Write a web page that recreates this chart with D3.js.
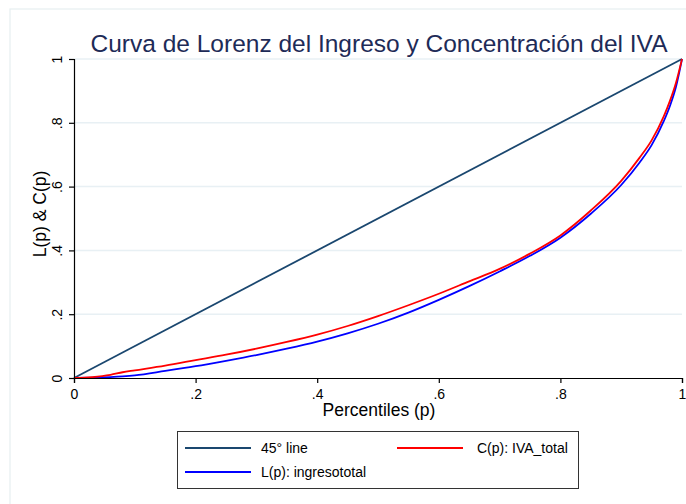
<!DOCTYPE html>
<html>
<head>
<meta charset="utf-8">
<script src="https://cdn.jsdelivr.net/npm/d3@7"></script>
<style>
  body { margin: 0; background: #fff; }
  svg { font-family: "Liberation Sans", Arial, sans-serif; }
</style>
</head>
<body>
<div class="chart"></div>
<script>
// percentiles and the two curves
var pct  = [0, 0.03, 0.06, 0.08, 0.1, 0.15, 0.2, 0.25, 0.3, 0.35, 0.4, 0.45, 0.5, 0.55, 0.6, 0.65, 0.7, 0.75, 0.8, 0.85, 0.9, 0.93, 0.95, 0.97, 0.98, 0.99, 1];
var ivaC = [0, 0.003, 0.010, 0.018, 0.024, 0.039, 0.056, 0.073, 0.092, 0.113, 0.136, 0.163, 0.194, 0.228, 0.264, 0.303, 0.342, 0.390, 0.447, 0.525, 0.618, 0.690, 0.745, 0.820, 0.868, 0.925, 1];
var ingL = [0, 0.001, 0.003, 0.005, 0.008, 0.022, 0.037, 0.054, 0.072, 0.092, 0.114, 0.140, 0.170, 0.205, 0.245, 0.288, 0.334, 0.383, 0.440, 0.515, 0.605, 0.675, 0.730, 0.805, 0.852, 0.912, 1];
var diag = [0, 1];
var ticks = [0, 0.2, 0.4, 0.6, 0.8, 1];
var legendLabels = ["45° line", "C(p): IVA_total", "L(p): ingresototal"];

var W = 686, H = 504;
var margin = {left: 74, right: 4, top: 59, bottom: 126};

var svg = d3.select(".chart").append("svg")
  .attr("width", W).attr("height", H);

// light outer frame
svg.append("rect")
  .attr("x", 10).attr("y", 9).attr("width", W).attr("height", H)
  .attr("fill", "none").attr("stroke", "#e6eff1").attr("stroke-width", 1.2);

var x = d3.scaleLinear().domain([0, 1]).range([margin.left, W - margin.right]);
var y = d3.scaleLinear().domain([0, 1]).range([H - margin.bottom, margin.top]);

var fmt = function(d) { return d === 0 ? "0" : d === 1 ? "1" : d3.format(".1f")(d).replace(/^0/, ""); };

// gridlines
svg.append("g").selectAll("line")
  .data(ticks.filter(function(d) { return d > 0; }))
  .enter().append("line")
  .attr("x1", x(0)).attr("x2", x(1))
  .attr("y1", function(d) { return y(d); })
  .attr("y2", function(d) { return y(d); })
  .attr("stroke", "#e8f0f4").attr("stroke-width", 1.5);

// curves
var line = d3.line()
  .x(function(d) { return x(d[0]); })
  .y(function(d) { return y(d[1]); })
  .curve(d3.curveMonotoneX);

svg.append("path")
  .datum(diag.map(function(d) { return [d, d]; }))
  .attr("d", line).attr("fill", "none")
  .attr("stroke", "#1a476f").attr("stroke-width", 1.8);

svg.append("path")
  .datum(pct.map(function(p, i) { return [p, ingL[i]]; }))
  .attr("d", line).attr("fill", "none")
  .attr("stroke", "#0000ff").attr("stroke-width", 1.8);

svg.append("path")
  .datum(pct.map(function(p, i) { return [p, ivaC[i]]; }))
  .attr("d", line).attr("fill", "none")
  .attr("stroke", "#ff0000").attr("stroke-width", 1.8);

// axes
var xAxis = svg.append("g")
  .attr("transform", "translate(0," + y(0) + ")")
  .call(d3.axisBottom(x).tickValues(ticks).tickFormat(fmt).tickSize(5).tickPadding(6));
var yAxis = svg.append("g")
  .attr("transform", "translate(" + x(0) + ",0)")
  .call(d3.axisLeft(y).tickValues(ticks).tickFormat(fmt).tickSize(5).tickPadding(4));

[xAxis, yAxis].forEach(function(g) {
  g.select(".domain").attr("stroke", "#000").attr("stroke-width", 1.2);
  g.selectAll(".tick line").attr("stroke", "#000").attr("stroke-width", 1.2);
  g.selectAll(".tick text").attr("fill", "#000").style("font-size", "14px")
    .style("font-family", "Liberation Sans, Arial, sans-serif");
});

yAxis.selectAll(".tick text")
  .attr("x", null).attr("dy", null)
  .attr("text-anchor", "middle")
  .attr("transform", "translate(-12,0) rotate(-90)")
  .attr("y", 0);

// titles
svg.append("text")
  .attr("x", (x(0) + x(1)) / 2 + 1).attr("y", 52)
  .attr("text-anchor", "middle")
  .attr("fill", "#1e2b57")
  .style("font-size", "24.5px")
  .text("Curva de Lorenz del Ingreso y Concentración del IVA");

svg.append("text")
  .attr("x", (x(0) + x(1)) / 2 + 1).attr("y", 416)
  .attr("text-anchor", "middle")
  .attr("fill", "#000")
  .style("font-size", "17.5px")
  .text("Percentiles (p)");

svg.append("text")
  .attr("transform", "translate(46,214) rotate(-90)")
  .attr("text-anchor", "middle")
  .attr("fill", "#000")
  .style("font-size", "17.5px")
  .text("L(p) & C(p)");

// legend
var leg = svg.append("g");
leg.append("rect")
  .attr("x", 177.5).attr("y", 431.5).attr("width", 401).attr("height", 57)
  .attr("fill", "#fff").attr("stroke", "#333").attr("stroke-width", 1);

var items = [
  {label: legendLabels[0], color: "#1a476f", x: 185, y: 448},
  {label: legendLabels[1], color: "#ff0000", x: 397, y: 448},
  {label: legendLabels[2], color: "#0000ff", x: 185, y: 472}
];
items.forEach(function(it) {
  leg.append("line")
    .attr("x1", it.x).attr("x2", it.x + 66)
    .attr("y1", it.y).attr("y2", it.y)
    .attr("stroke", it.color).attr("stroke-width", 1.8);
  leg.append("text")
    .attr("x", it.x + 76 + (it.x > 300 ? 4 : 0)).attr("y", it.y + 5)
    .attr("fill", "#000")
    .style("font-size", "14px")
    .text(it.label);
});
</script>
</body>
</html>
